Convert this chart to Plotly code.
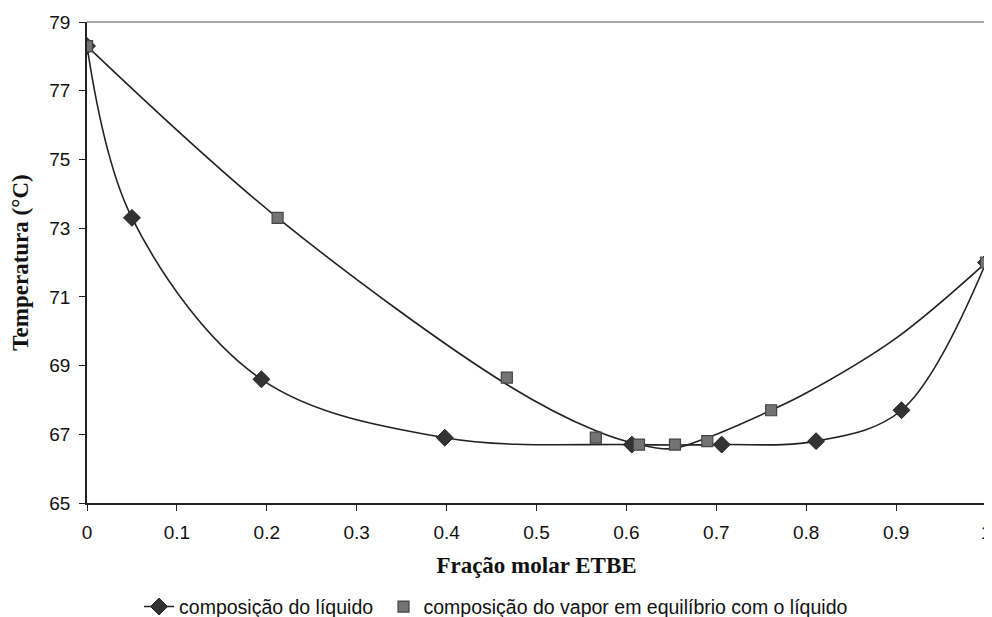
import plotly.graph_objects as go

# Liquid composition (diamonds)
liq_x = [0.0, 0.05, 0.194, 0.398, 0.606, 0.706, 0.811, 0.906, 1.0]
liq_t = [78.3, 73.3, 68.6, 66.9, 66.7, 66.7, 66.8, 67.7, 72.0]

# Vapor composition (squares)
vap_x = [0.0, 0.212, 0.467, 0.566, 0.614, 0.654, 0.690, 0.761, 1.0]
vap_t = [78.3, 73.3, 68.65, 66.9, 66.7, 66.7, 66.8, 67.7, 72.0]

# Vapor curve
vcurve_x = [0.0, 0.212, 0.467, 0.566, 0.614, 0.650, 0.690, 0.761, 0.80, 0.90, 1.0]
vcurve_t = [78.3, 73.3, 68.45, 67.1, 66.7, 66.58, 66.9, 67.7, 68.2, 69.8, 72.0]

x_ticks = [0, 0.1, 0.2, 0.3, 0.4, 0.5, 0.6, 0.7, 0.8, 0.9, 1]
x_tick_text = ["0", "0.1", "0.2", "0.3", "0.4", "0.5", "0.6", "0.7", "0.8", "0.9", "1"]
y_ticks = [65, 67, 69, 71, 73, 75, 77, 79]

SANS = "Liberation Sans, Arial, sans-serif"
SERIF = "Liberation Serif, Times New Roman, serif"

fig = go.Figure()

fig.add_trace(go.Scatter(
    x=vcurve_x, y=vcurve_t, mode="lines",
    line=dict(color="#222222", width=1.6, shape="spline", smoothing=1.0),
    showlegend=False, hoverinfo="skip",
))

fig.add_trace(go.Scatter(
    x=liq_x, y=liq_t, mode="lines+markers",
    name="composição do líquido\u00a0",
    line=dict(color="#222222", width=1.6, shape="spline", smoothing=1.0),
    marker=dict(symbol="diamond", size=13, color="#333333",
                line=dict(color="#222222", width=1)),
))

fig.add_trace(go.Scatter(
    x=vap_x, y=vap_t, mode="markers",
    name="composição do vapor em equilíbrio com o líquido",
    marker=dict(symbol="square", size=11, color="#737373",
                line=dict(color="#444444", width=1.2)),
))

fig.update_layout(
    width=984, height=640,
    paper_bgcolor="white", plot_bgcolor="white",
    margin=dict(l=79, r=6, t=14, b=145),
    font=dict(family=SANS, size=19, color="#111111"),
    legend=dict(orientation="h", x=0.455, xanchor="center", y=-0.216, yanchor="middle",
                font=dict(size=19.5, family=SANS), itemwidth=30, traceorder="normal",
                bgcolor="rgba(0,0,0,0)"),
    showlegend=True,
    shapes=[
        dict(type="line", xref="paper", yref="paper", x0=0, x1=1, y0=1, y1=1,
             line=dict(color="#555555", width=1.2)),
        dict(type="line", xref="paper", yref="paper", x0=1, x1=1, y0=0, y1=1,
             line=dict(color="#555555", width=1.2)),
    ],
)

fig.update_xaxes(
    range=[0, 1], tickvals=x_ticks, ticktext=x_tick_text,
    showgrid=False, zeroline=False, automargin=False,
    showline=True, linecolor="#222222", linewidth=1.6,
    ticks="outside", ticklen=6, tickcolor="#222222", ticklabelstandoff=5,
    tickfont=dict(size=19, family=SANS),
    title=dict(text="<b>Fração molar ETBE</b>", standoff=15,
               font=dict(family=SERIF, size=23, color="#111111")),
)
fig.update_yaxes(
    range=[65, 79], tickvals=y_ticks,
    showgrid=False, zeroline=False, automargin=False,
    showline=True, linecolor="#222222", linewidth=1.6,
    ticks="outside", ticklen=6, tickcolor="#222222", ticklabelstandoff=5,
    tickfont=dict(size=19, family=SANS),
    title=dict(text="<b>Temperatura (°C)</b>", standoff=26,
               font=dict(family=SERIF, size=23, color="#111111")),
)

fig.write_html("out.html")
